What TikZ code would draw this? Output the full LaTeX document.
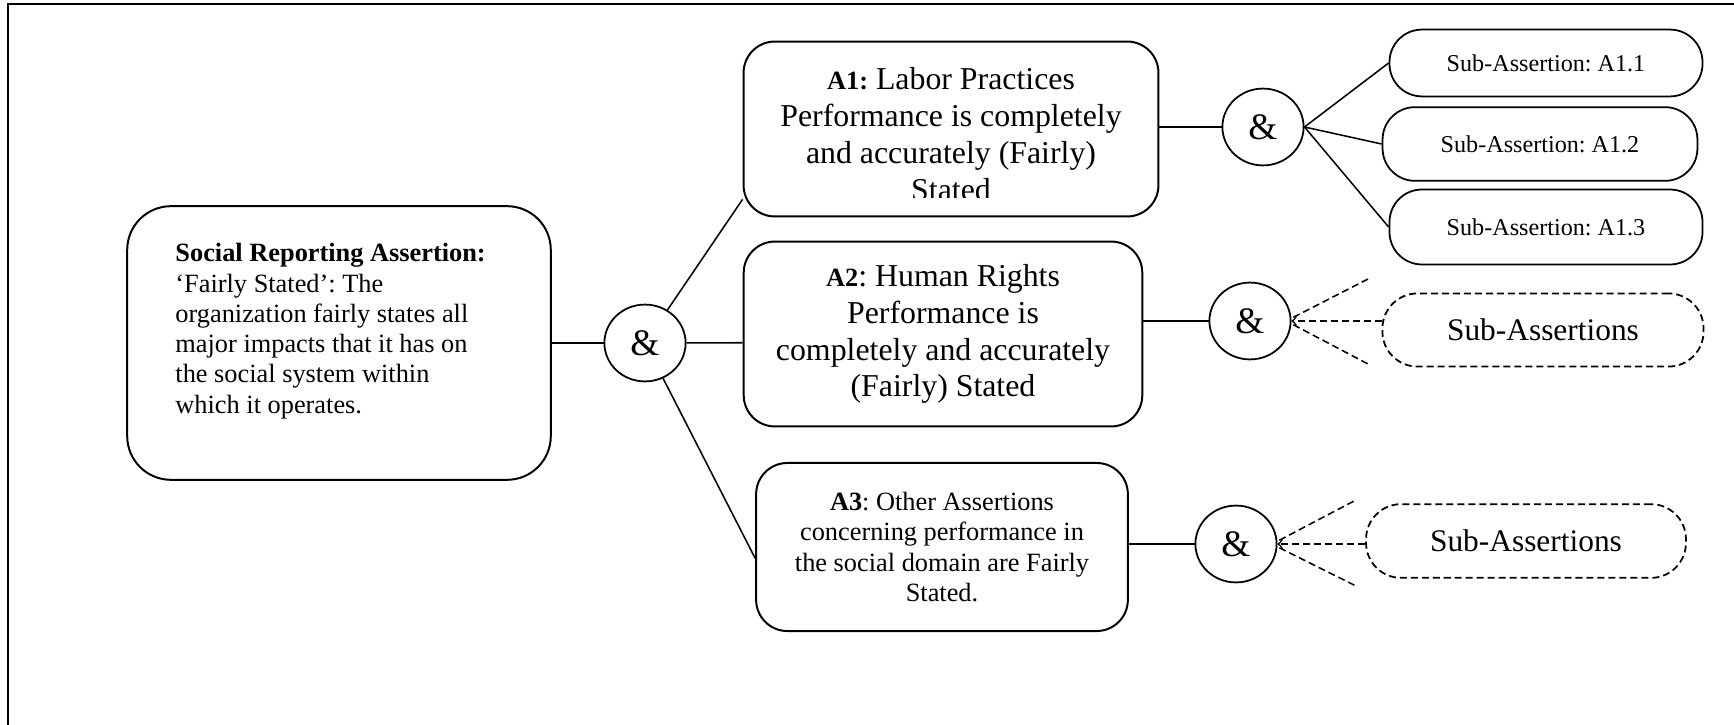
\documentclass[tikz,border=0pt]{standalone}
\usepackage{fontspec}
\setmainfont{Liberation Serif}
\usetikzlibrary{positioning,shapes.geometric,arrows}
\frenchspacing

\begin{document}
\begin{tikzpicture}[x=0.016cm,y=-0.016cm,>=to,
    font=\fontsize{12}{13.8}\selectfont,
    claim/.style={draw,line width=0.9pt,rounded corners=0.5cm,inner sep=0pt,align=center},
    andnode/.style={draw,ellipse,line width=0.8pt,minimum width=1.3cm,minimum height=1.23cm,
      inner sep=0pt,font=\fontsize{17}{20}\selectfont},
    subclaim/.style={draw,line width=0.8pt,rounded corners=0.52cm,inner sep=0pt,
      font=\fontsize{11}{13}\selectfont},
    opensub/.style={subclaim,dash pattern=on 3.2pt off 1.8pt,rounded corners=0.56cm,
      font=\fontsize{14.3}{17}\selectfont},
    link/.style={line width=0.7pt},
    hint/.style={line width=0.7pt,dash pattern=on 3.2pt off 1.8pt}]
  \useasboundingbox (0,0) rectangle (1734,725);
  \draw[line width=1pt] (8,725) -- (8,4) -- (1734,4);

  % main assertion
  \node[claim,rounded corners=0.7cm,minimum width=6.78cm,minimum height=4.38cm] (sra) at (339,343) {};
  \node[anchor=north west,inner sep=0pt,align=left] (sratxt) at (175,243)
    {\textbf{Social Reporting Assertion:}\\‘Fairly Stated’: The\\organization fairly states all\\
      major impacts that it has on\\the social system within\\which it operates.};
  \node[andnode] (and1) at (645,343) {\&};

  % second level
  \node[claim,minimum width=6.64cm,minimum height=2.8cm] (a1) at (951,129) {};
  \begin{scope}
    \clip (a1.north west) rectangle ([yshift=0.32cm]a1.south east);
    \node[inner sep=0pt,align=center,font=\fontsize{14.5}{16.8}\selectfont] (a1txt) at (951,134)
      {\textbf{\fontsize{12}{14}\selectfont A1:} Labor Practices\\Performance is completely\\
        and accurately (Fairly)\\Stated};
  \end{scope}
  \node[claim,minimum width=6.38cm,minimum height=2.96cm,font=\fontsize{14.5}{16.8}\selectfont] (a2) at (943,334)
    {\textbf{\fontsize{12}{14}\selectfont A2}: Human Rights\\Performance is\\completely and accurately\\(Fairly) Stated};
  \node[claim,minimum width=5.95cm,minimum height=2.69cm] (a3) at (942,547)
    {\textbf{A3}: Other Assertions\\concerning performance in\\the social domain are Fairly\\Stated.};

  \node[andnode] (and2) at (1263,127) {\&};
  \node[andnode] (and3) at (1250,321) {\&};
  \node[andnode] (and4) at (1236,544) {\&};

  % sub-assertions
  \node[subclaim,minimum width=5.01cm,minimum height=1.07cm] (s11) at (1546,63) {Sub-Assertion: A1.1};
  \node[subclaim,minimum width=5.04cm,minimum height=1.18cm] (s12) at (1540,144) {Sub-Assertion: A1.2};
  \node[subclaim,minimum width=5.01cm,minimum height=1.2cm] (s13) at (1546,227) {Sub-Assertion: A1.3};
  \node[opensub,minimum width=5.14cm,minimum height=1.17cm] (sa2) at (1543,330) {Sub-Assertions};
  \node[opensub,minimum width=5.12cm,minimum height=1.18cm] (sa3) at (1526,541) {Sub-Assertions};

  \coordinate (a2up) at (1368,279);
  \coordinate (a2dn) at (1368,364);
  \coordinate (a3up) at (1356,500);
  \coordinate (a3dn) at (1356,586);

  \draw[link] (sra) -- (and1);
  \draw[link] (and1) -- ([yshift=0.29cm]a1.south west);
  \draw[link] (and1) -- ([yshift=-0.14cm]a2.west);
  \draw[link] (and1) -- ([yshift=-0.18cm]a3.west);
  \draw[link] (and2.west -| a1.east) -- (and2.west);
  \draw[link] (and3.west -| a2.east) -- (and3.west);
  \draw[link] (and4.west -| a3.east) -- (and4.west);
  \draw[link] (and2.east) -- (s11.west);
  \draw[link] (and2.east) -- (s12.west);
  \draw[link] (and2.east) -- (s13.west);

  \draw[hint] ([xshift=0.03cm,yshift=0.06cm]and3.east) -- (a2up);
  \draw[hint] ([xshift=0.03cm,yshift=-0.06cm]and3.east) -- (a2dn);
  \draw[hint,->] (sa2.west |- and3.east) -- (and3.east);
  \draw[hint] ([xshift=0.03cm,yshift=0.06cm]and4.east) -- (a3up);
  \draw[hint] ([xshift=0.03cm,yshift=-0.06cm]and4.east) -- (a3dn);
  \draw[hint,->] (sa3.west |- and4.east) -- (and4.east);
\end{tikzpicture}
\end{document}
